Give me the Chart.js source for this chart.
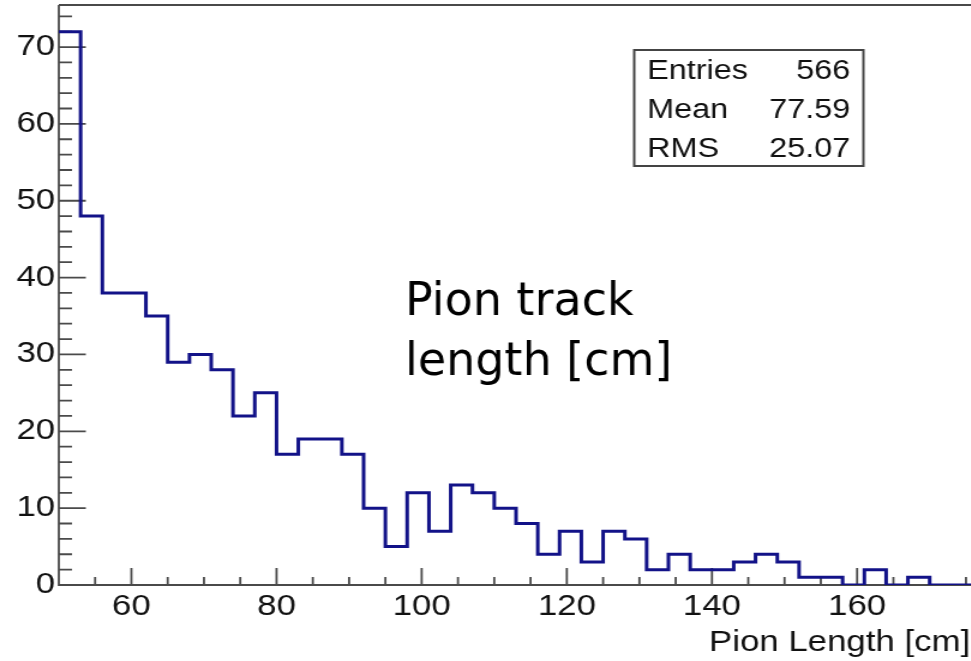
<!DOCTYPE html>
<html>
<head>
<meta charset="utf-8">
<script src="https://cdn.jsdelivr.net/npm/chart.js@4/dist/chart.umd.min.js"></script>
<style>
  html, body { margin: 0; padding: 0; background: #ffffff; overflow: hidden; }
  #wrap { width: 971px; height: 661px; overflow: hidden; }
  /* the plot is laid out 1.2x narrower and stretched horizontally */
  #c { display: block; transform: scaleX(1.2); transform-origin: 0 0; }
</style>
</head>
<body>
<div id="wrap"><canvas id="c" width="812" height="661"></canvas></div>
<script>
// Pion track length histogram: 3 cm bins from 50 to 176 cm
const binEdges = [50, 53, 56, 59, 62, 65, 68, 71, 74, 77, 80, 83, 86, 89, 92, 95, 98, 101, 104, 107, 110,
                  113, 116, 119, 122, 125, 128, 131, 134, 137, 140, 143, 146, 149, 152, 155, 158, 161, 164,
                  167, 170, 173, 176];
const binCounts = [72, 48, 38, 38, 35, 29, 30, 28, 22, 25, 17, 19, 19, 17, 10, 5, 12, 7, 13, 12, 10,
                   8, 4, 7, 3, 7, 6, 2, 4, 2, 2, 3, 4, 3, 1, 1, 0, 2, 0, 1, 0, 0];

// Axis ticks
const xTickValues = [60, 80, 100, 120, 140, 160];
const xMinorTicks = [55, 65, 70, 75, 85, 90, 95, 105, 110, 115, 125, 130, 135, 145, 150, 155, 165, 170, 175];
const yTickValues = [0, 10, 20, 30, 40, 50, 60, 70];
const yMinorTicks = [2, 4, 6, 8, 12, 14, 16, 18, 22, 24, 26, 28, 32, 34, 36, 38, 42, 44, 46, 48,
                     52, 54, 56, 58, 62, 64, 66, 68, 72, 74];

// Statistics box
const statLabels = ['Entries', 'Mean', 'RMS'];
const statValues = ['566', '77.59', '25.07'];

const xTitle = 'Pion Length [cm]';
const noteLines = ['Pion track', 'length [cm]'];

const STRETCH = 1.2;
const SANS = "'Liberation Sans', Arial, Helvetica, sans-serif";
const AXIS_COLOR = '#4a4a4a';

const framePlugin = {
  id: 'rootFrame',
  beforeDatasetsDraw(chart) {
    const { ctx, chartArea: a, scales: { x, y } } = chart;
    ctx.save();
    ctx.strokeStyle = AXIS_COLOR;
    ctx.lineWidth = 2;
    ctx.beginPath();
    // frame: left, bottom and top edges
    ctx.moveTo(a.left, a.top + 1);
    ctx.lineTo(a.left, a.bottom);
    ctx.lineTo(a.right + 2, a.bottom);
    ctx.moveTo(a.left, a.top + 1);
    ctx.lineTo(a.right + 2, a.top + 1);
    // y ticks, pointing into the plot
    yTickValues.forEach(v => {
      const py = y.getPixelForValue(v);
      ctx.moveTo(a.left, py); ctx.lineTo(a.left + 22.5, py);
    });
    yMinorTicks.forEach(v => {
      const py = y.getPixelForValue(v);
      ctx.moveTo(a.left, py); ctx.lineTo(a.left + 11, py);
    });
    // x ticks, pointing up
    xTickValues.forEach(v => {
      const px = x.getPixelForValue(v);
      ctx.moveTo(px, a.bottom); ctx.lineTo(px, a.bottom - 17);
    });
    xMinorTicks.forEach(v => {
      const px = x.getPixelForValue(v);
      ctx.moveTo(px, a.bottom); ctx.lineTo(px, a.bottom - 8);
    });
    ctx.lineWidth = 1.8;
    ctx.stroke();
    ctx.restore();
  },
  afterDraw(chart) {
    const { ctx } = chart;
    ctx.save();
    // x-axis title, right-aligned under the axis
    ctx.fillStyle = '#111';
    ctx.font = `29px ${SANS}`;
    ctx.textAlign = 'right';
    ctx.textBaseline = 'alphabetic';
    ctx.fillText(xTitle, 808.5, 651);

    // statistics box
    ctx.fillStyle = '#ffffff';
    ctx.fillRect(528.5, 50, 191, 116);
    ctx.strokeStyle = '#444';
    ctx.lineWidth = 2;
    ctx.strokeRect(528.5, 50, 191, 116);
    ctx.fillStyle = '#111';
    ctx.font = `27px ${SANS}`;
    statLabels.forEach((lab, i) => {
      const by = 78.5 + i * 39.3;
      ctx.textAlign = 'left';
      ctx.fillText(lab, 539.3, by);
      ctx.textAlign = 'right';
      ctx.fillText(statValues[i], 708.5, by);
    });

    // handwritten-style note, drawn unstretched
    ctx.scale(1 / STRETCH, 1);
    ctx.fillStyle = '#000';
    ctx.font = "46px 'DejaVu Sans', sans-serif";
    ctx.textAlign = 'left';
    noteLines.forEach((t, i) => ctx.fillText(t, 405, 315 + i * 60));
    ctx.restore();
  }
};

const points = binEdges.map((e, i) => ({
  x: e,
  y: i < binCounts.length ? binCounts[i] : binCounts[binCounts.length - 1]
}));

new Chart(document.getElementById('c'), {
  type: 'line',
  data: {
    datasets: [{
      data: points,
      stepped: 'before',
      borderColor: '#121288',
      borderWidth: 3,
      pointRadius: 0,
      fill: false
    }]
  },
  options: {
    responsive: false,
    animation: false,
    devicePixelRatio: 1,
    layout: { padding: { top: 4, right: 1, left: 0, bottom: 0 } },
    plugins: { legend: { display: false }, tooltip: { enabled: false } },
    scales: {
      x: {
        type: 'linear',
        min: 50,
        max: 176,
        grid: { display: false, drawTicks: false },
        border: { display: false },
        ticks: { padding: 5, color: '#111', font: { family: SANS, size: 29 }, maxRotation: 0 },
        afterBuildTicks: s => { s.ticks = xTickValues.map(v => ({ value: v })); },
        afterFit: s => { s.height = 76; s.paddingLeft = 0; s.paddingRight = 0; }
      },
      y: {
        type: 'linear',
        min: 0,
        max: 75.6,
        grid: { display: false, drawTicks: false },
        border: { display: false },
        ticks: { padding: 3, color: '#111', font: { family: SANS, size: 29 } },
        afterBuildTicks: s => { s.ticks = yTickValues.map(v => ({ value: v })); },
        afterFit: s => { s.width = 49; s.paddingTop = 0; s.paddingBottom = 0; }
      }
    }
  },
  plugins: [framePlugin]
});
</script>
</body>
</html>
